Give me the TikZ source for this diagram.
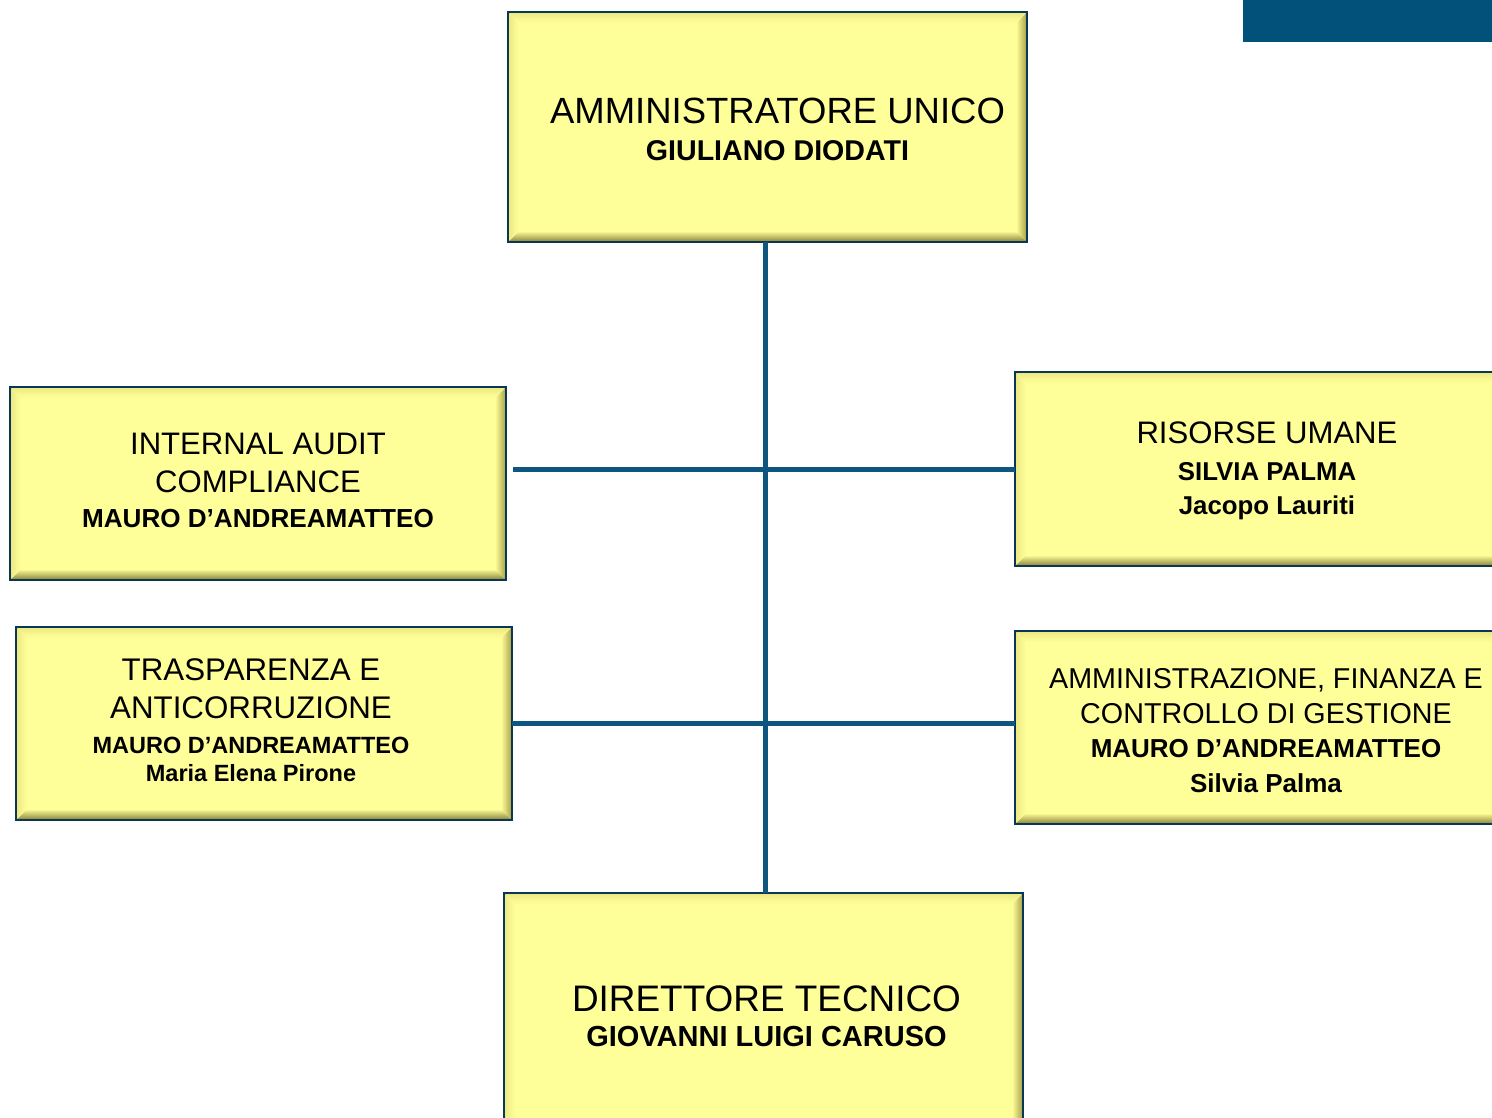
\documentclass[tikz,border=0pt]{standalone}
\usepackage{fontspec}
\setmainfont{Liberation Sans}
\usetikzlibrary{positioning,calc}
\definecolor{boxfill}{RGB}{255,255,153}
\definecolor{boxline}{RGB}{10,55,85}
\definecolor{linkblue}{RGB}{12,86,128}
\definecolor{bevdark}{RGB}{135,128,55}
\definecolor{bevside}{RGB}{165,158,70}
\definecolor{bevlight}{RGB}{235,232,130}
\definecolor{barblue}{RGB}{2,81,122}

\tikzset{
  unitbox/.style={draw=boxline, line width=2pt, fill=boxfill, inner sep=0pt},
  unittext/.style={align=center, inner sep=0pt},
  link/.style={draw=linkblue, line width=5pt},
}
% bevelled edges of a box, then its border again
\newcommand{\bevel}[1]{%
  \shade[top color=boxfill, bottom color=bevdark] (#1.south west) -- (#1.south east) -- ($(#1.south east)+(-11,-11)$) -- ($(#1.south west)+(11,-11)$) -- cycle;
  \shade[left color=boxfill, right color=bevside] (#1.north east) -- (#1.south east) -- ($(#1.south east)+(-11,-11)$) -- ($(#1.north east)+(-11,11)$) -- cycle;
  \shade[bottom color=boxfill, top color=bevlight] (#1.north west) -- (#1.north east) -- ($(#1.north east)+(-11,11)$) -- ($(#1.north west)+(11,11)$) -- cycle;
  \shade[right color=boxfill, left color=bevlight] (#1.north west) -- (#1.south west) -- ($(#1.south west)+(11,-11)$) -- ($(#1.north west)+(11,11)$) -- cycle;
  \draw[boxline, line width=2pt] (#1.south west) rectangle (#1.north east);
}

\begin{document}
\begin{tikzpicture}[x=1pt,y=1pt,yscale=-1,xscale=1]
\useasboundingbox (0,0) rectangle (1492,1117);
\clip (0,0) rectangle (1492,1117);

% corner bar
\fill[barblue] (1243,0) rectangle (1492,42);

% boxes
\node[unitbox, minimum width=517pt, minimum height=228pt] (amm) at (767.5,127) {};
\node[unitbox, minimum width=494pt, minimum height=191pt] (audit) at (258,483.5) {};
\node[unitbox, minimum width=494pt, minimum height=191pt] (trasp) at (264,723.5) {};
\node[unitbox, minimum width=500pt, minimum height=192pt] (hr) at (1266,469) {};
\node[unitbox, minimum width=500pt, minimum height=191pt] (afc) at (1266,727.5) {};
\node[unitbox, minimum width=517pt, minimum height=240pt] (dir) at (763.5,1014) {};

\foreach \b in {amm,audit,trasp,hr,afc,dir} {\bevel{\b}}

% texts
\node[unittext, font=\fontsize{36.5}{37}\selectfont] (amm-t) at ($(amm)+(10,2)$)
  {AMMINISTRATORE UNICO\\ {\fontsize{28.6}{37}\selectfont\bfseries GIULIANO DIODATI}};
\node[unittext, font=\fontsize{31.1}{38.5}\selectfont] (audit-t) at ($(audit)+(0,-3)$)
  {INTERNAL AUDIT\\ COMPLIANCE\\[-3.5pt] {\fontsize{26.1}{35}\selectfont\bfseries MAURO D’ANDREAMATTEO}};
\node[unittext, font=\fontsize{31.3}{38}\selectfont] (trasp-t) at ($(trasp)+(-13,-3)$)
  {TRASPARENZA E\\ ANTICORRUZIONE\\[-3pt] {\fontsize{23.5}{35}\selectfont\bfseries MAURO D’ANDREAMATTEO}\\[-10pt] {\fontsize{23.5}{35}\selectfont\bfseries Maria Elena Pirone}};
\node[unittext, font=\fontsize{31.1}{37}\selectfont] (hr-t) at ($(hr)+(1,2)$)
  {RISORSE UMANE\\ {\fontsize{25.8}{37}\selectfont\bfseries SILVIA PALMA}\\[-3pt] {\fontsize{25.8}{37}\selectfont\bfseries Jacopo Lauriti}};
\node[unittext, font=\fontsize{28.7}{34.5}\selectfont] (afc-t) at ($(afc)+(0,3)$)
  {AMMINISTRAZIONE, FINANZA E\\ CONTROLLO DI GESTIONE\\ {\fontsize{26}{35}\selectfont\bfseries MAURO D’ANDREAMATTEO}\\ {\fontsize{26}{35}\selectfont\bfseries Silvia Palma}};
\node[unittext, font=\fontsize{36.9}{35}\selectfont] (dir-t) at ($(dir)+(3,2)$)
  {DIRETTORE TECNICO\\ {\fontsize{29}{35}\selectfont\bfseries GIOVANNI LUIGI CARUSO}};

% connectors
\draw[link] ($(amm.south)+(-2,0)$) -- ($(amm.south |- dir.north)+(-2,0)$);
\draw[link] ($(audit.east |- hr.west)+(7,0)$) -- (hr.west);
\draw[link] (trasp.east) -- (trasp.east -| afc.west);

\end{tikzpicture}
\end{document}
